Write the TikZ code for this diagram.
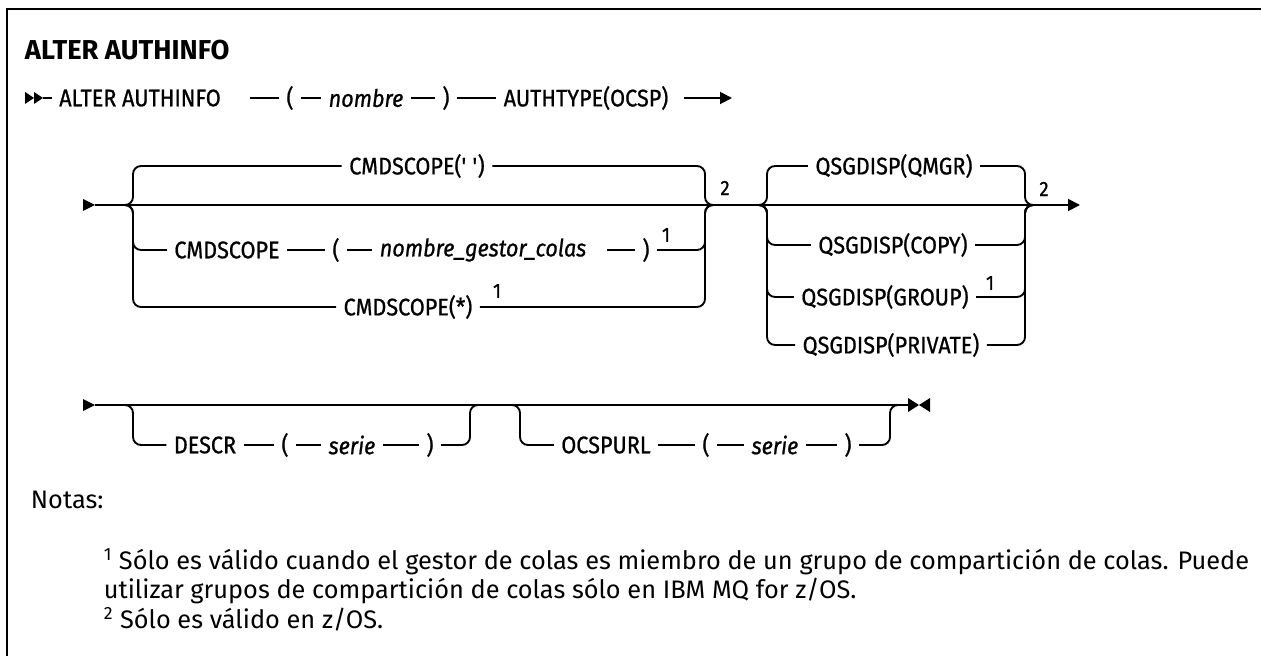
\documentclass[tikz,border=0pt]{standalone}
\usepackage{fontspec}
\setmainfont{Fira Sans}
\newfontfamily\diagfont[FakeStretch=0.9, FakeBold=0.8]{Fira Sans}
\usetikzlibrary{arrows.meta}
\begin{document}
\begin{tikzpicture}[
        x=0.75pt, y=-0.75pt,
        line width=1.4pt,
        every node/.style={inner sep=0pt},
        kw/.style={font=\diagfont\fontsize{18}{20}\selectfont, inner xsep=5pt, inner ysep=2pt},
        var/.style={kw, font=\diagfont\itshape\fontsize{18}{20}\selectfont},
        fnmark/.style={font=\diagfont\fontsize{15.5}{16}\selectfont},
        notetext/.style={anchor=base west, font=\fontsize{19}{22}\selectfont,
            text height=13pt, text depth=4pt},
        rail/.style={rounded corners=6pt},
        endarrow/.style={-{Triangle[length=9pt,width=9pt]}}
    ]

    \useasboundingbox (0,0) rectangle (1261,656);

    % frame and title
    \draw[line width=1.5pt] (7,656) -- (7,9) -- (1261,9);
    \node[anchor=base west, font=\bfseries\fontsize{20.5}{22}\selectfont] (title) at (24,60)
    {ALTER AUTHINFO};

    % line 1
    \fill (25,92) -- (34,98) -- (25,104) -- cycle;
    \fill (34,92) -- (43,98) -- (34,104) -- cycle;
    \coordinate (s1) at (43,98);
    \coordinate (e1) at (732,98);

    \node[kw] (alter) at (140,98) {ALTER AUTHINFO};
    \node[kw] (lp1) at (290,98) {(};
    \node[var] (nombre) at (366,98) {nombre};
    \node[kw] (rp1) at (446,98) {)};
    \node[kw] (authtype) at (586,98) {AUTHTYPE(OCSP)};

    \draw (s1) -- (alter);
    \draw[shorten <=16pt] (alter) -- (lp1);
    \draw (lp1) -- (nombre);
    \draw (nombre) -- (rp1);
    \draw (rp1) -- (authtype);
    \draw[endarrow, shorten <=6pt] (authtype) -- (e1);

    % line 2
    \fill (83,199) -- (95,205) -- (83,211) -- cycle;
    \coordinate (s2) at (95,205);
    \coordinate (g1in) at (125,205);
    \coordinate (g1L) at (133,205);
    \coordinate (g1R) at (705,205);
    \coordinate (g1out) at (713,205);
    \coordinate (g2in) at (759,205);
    \coordinate (g2L) at (767,205);
    \coordinate (g2R) at (1025,205);
    \coordinate (g2out) at (1033,205);
    \coordinate (e2) at (1080,205);

    \node[kw] (cmdblank) at (417,166) {CMDSCOPE(\textquotesingle\ \textquotesingle)};
    \node[kw] (cmdq) at (227,250) {CMDSCOPE};
    \node[kw] (lp2) at (336,250) {(};
    \node[var] (qmgrname) at (483,250) {nombre\_gestor\_colas};
    \node[kw] (rp2) at (646,250) {)};
    \node[fnmark] (n1a) at (666,235) {1};
    \node[kw] (cmdall) at (408,307) {CMDSCOPE(*)};
    \node[fnmark] (n1b) at (497,291) {1};
    \node[fnmark] (n2a) at (725,188) {2};

    \draw[endarrow] (s2) -- (e2);

    \draw[rail] (g1in) -| (g1L |- cmdblank) -- (cmdblank);
    \draw[rail] (cmdblank) -| (g1R) -- (g1out);
    \draw[rail] (g1in) -| (g1L |- cmdq) -- (cmdq);
    \draw (cmdq) -- (lp2);
    \draw (lp2) -- (qmgrname);
    \draw[shorten <=10pt] (qmgrname) -- (rp2);
    \draw[rail] (rp2) -| (g1R) -- (g1out);
    \draw[rail] (g1in) -| (g1L |- cmdall) -- (cmdall);
    \draw[rail] (cmdall) -| (g1R) -- (g1out);

    \node[kw] (qmgr) at (894,166) {QSGDISP(QMGR)};
    \node[kw] (copy) at (893,245) {QSGDISP(COPY)};
    \node[kw] (group) at (885,297) {QSGDISP(GROUP)};
    \node[fnmark] (n1c) at (990,283) {1};
    \node[kw] (private) at (891,345) {QSGDISP(PRIVATE)};
    \node[fnmark] (n2b) at (1044,189) {2};

    \draw[rail] (g2in) -| (g2L |- qmgr) -- (qmgr);
    \draw[rail] (qmgr) -| (g2R) -- (g2out);
    \draw[rail] (g2in) -| (g2L |- copy) -- (copy);
    \draw[rail] (copy) -| (g2R) -- (g2out);
    \draw[rail] (g2in) -| (g2L |- group) -- (group);
    \draw[rail] (group) -| (g2R) -- (g2out);
    \draw[rail] (g2in) -| (g2L |- private) -- (private);
    \draw[rail] (private) -| (g2R) -- (g2out);

    % line 3
    \fill (83,399) -- (95,405) -- (83,411) -- cycle;
    \coordinate (s3) at (95,405);
    \coordinate (d3in) at (125,405);
    \coordinate (d3L) at (133,405);
    \coordinate (d3R) at (470,405);
    \coordinate (d3out) at (478,405);
    \coordinate (o3in) at (512,405);
    \coordinate (o3L) at (520,405);
    \coordinate (o3R) at (890,405);
    \coordinate (o3out) at (898,405);
    \coordinate (e3) at (908,405);

    \node[kw] (descr) at (205,445) {DESCR};
    \node[kw] (lp3) at (285,445) {(};
    \node[var] (descrval) at (352,445) {serie};
    \node[kw] (rp3) at (430,445) {)};
    \node[kw] (ocspurl) at (606,445) {OCSPURL};
    \node[kw] (lp4) at (706,445) {(};
    \node[var] (urlval) at (775,445) {serie};
    \node[kw] (rp4) at (848,445) {)};

    \draw (s3) -- (e3);
    \fill (908,398) -- (919,405) -- (908,412) -- cycle;
    \fill (930,398) -- (919,405) -- (930,412) -- cycle;

    \draw[rail] (d3in) -| (d3L |- descr) -- (descr);
    \draw (descr) -- (lp3);
    \draw (lp3) -- (descrval);
    \draw (descrval) -- (rp3);
    \draw[rail] (rp3) -| (d3R) -- (d3out);
    \draw[rail] (o3in) -| (o3L |- ocspurl) -- (ocspurl);
    \draw (ocspurl) -- (lp4);
    \draw (lp4) -- (urlval);
    \draw (urlval) -- (rp4);
    \draw[rail] (rp4) -| (o3R) -- (o3out);

    % notes
    \node[notetext] (notas) at (30,508) {Notas:};
    \node[notetext] (nota1a) at (103,569)
    {\textsuperscript{1} Sólo es válido cuando el gestor de colas es miembro de un grupo de compartición de colas. Puede};
    \node[notetext] (nota1b) at (103,598)
    {utilizar grupos de compartición de colas sólo en IBM MQ for z/OS.};
    \node[notetext] (nota2) at (103,628)
    {\textsuperscript{2} Sólo es válido en z/OS.};

\end{tikzpicture}
\end{document}
